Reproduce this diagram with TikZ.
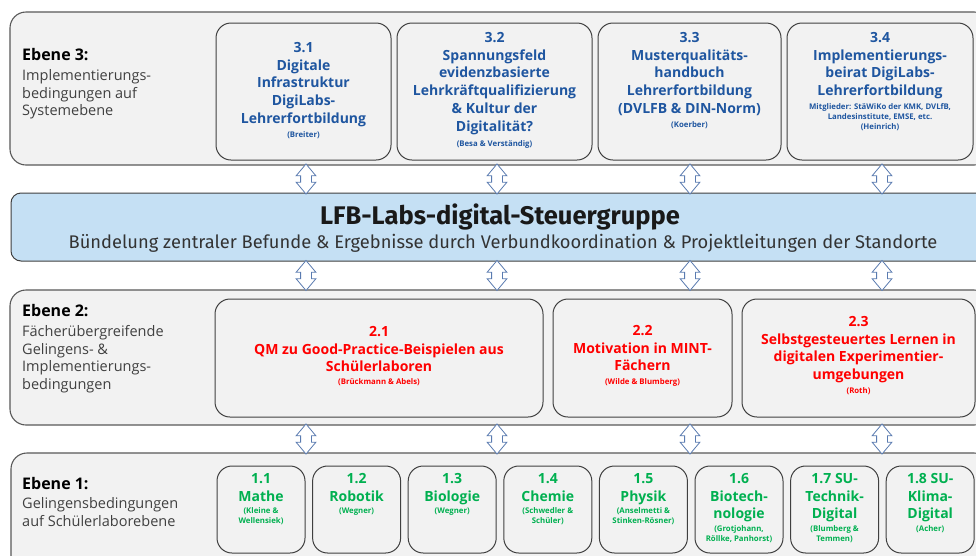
\documentclass[tikz,border=0pt]{standalone}
\usepackage{fontspec}
\setmainfont{Open Sans}
\newfontfamily\steuerfont{Fira Sans}
\usetikzlibrary{shapes,arrows,positioning,calc}

\definecolor{boxfill}{HTML}{F2F2F2}
\definecolor{boxline}{HTML}{595959}
\definecolor{feldline}{HTML}{404040}
\definecolor{steuerfill}{HTML}{C5E0F4}
\definecolor{pfeil}{HTML}{5A7BB0}
\definecolor{blau3}{HTML}{1F56A0}
\definecolor{rot2}{HTML}{FF0000}
\definecolor{gruen1}{HTML}{00B050}
\definecolor{ebenetext}{HTML}{404040}

\newcommand{\fs}[2]{\fontsize{#1}{#2}\selectfont}

\tikzstyle{ebene} = [rectangle, rounded corners=16pt, draw=boxline, fill=boxfill, line width=1.1pt, inner sep=0]
\tikzstyle{feld} = [rectangle, rounded corners=15pt, draw=feldline, fill=boxfill, line width=1pt, inner sep=0]
\tikzstyle{ebenekopf} = [anchor=base west, font=\bfseries\fs{16}{19}, text=black, inner sep=0]
\tikzstyle{ebenetxt} = [anchor=north west, align=left, font=\fs{14.5}{17.5}, text=ebenetext, inner sep=0]
\tikzstyle{feldtxt} = [anchor=north, align=center, font=\bfseries\fs{14}{17.8}, inner sep=0]
\tikzstyle{autor} = [anchor=north, align=center, font=\bfseries\fs{7.8}{10}, inner sep=0]
\tikzstyle{dpfeil} = [double arrow, draw=pfeil, fill=white, line width=0.8pt, rotate=90, minimum height=30pt, minimum width=19pt, inner xsep=0pt, inner ysep=5pt, double arrow head extend=4.5pt, double arrow tip angle=80]

\begin{document}
\begin{tikzpicture}[x=1pt, y=-1pt]
    \useasboundingbox (0,0) rectangle (976,555);
    \clip (0,0) rectangle (976,555);
    \fill[white] (0,0) rectangle (976,555);

    % Ebene 3: Systemebene
    \node[ebene, minimum width=980pt, minimum height=153pt] (ebene3) at (500,88.5) {};
    \node[ebenekopf] (k3) at (22,60) {Ebene 3:};
    \node[ebenetxt] (l3) at (22,69.6) {Implementierungs-\\bedingungen auf\\Systemebene};

    \node[feld, minimum width=175pt, minimum height=137pt] (b31) at (303.5,91.5) {};
    \node[feld, minimum width=195pt, minimum height=137pt] (b32) at (494.5,91.5) {};
    \node[feld, minimum width=183pt, minimum height=137pt] (b33) at (689.5,91.5) {};
    \node[feld, minimum width=186pt, minimum height=137pt] (b34) at (880,91.5) {};

    \node[feldtxt, text=blau3] (t31) at (303.5,42) {3.1\\Digitale\\Infrastruktur\\DigiLabs-\\Lehrerfortbildung};
    \node[autor, text=blau3] (a31) at (303.5,131.5) {(Breiter)};
    \node[feldtxt, text=blau3] (t32) at (494.5,32) {3.2\\Spannungsfeld\\evidenzbasierte\\Lehrkräftqualifizierung\\\& Kultur der\\Digitalität?};
    \node[autor, text=blau3] (a32) at (494.5,140.5) {(Besa \& Verständig)};
    \node[feldtxt, text=blau3] (t33) at (689.5,32) {3.3\\Musterqualitäts-\\handbuch\\Lehrerfortbildung\\(DVLFB \& DIN-Norm)};
    \node[autor, text=blau3] (a33) at (689.5,121.5) {(Koerber)};
    \node[feldtxt, text=blau3] (t34) at (880,32) {3.4\\Implementierungs-\\beirat DigiLabs-\\Lehrerfortbildung};
    \node[autor, text=blau3] (a34) at (880,103.5) {Mitglieder: StäWiKo der KMK, DVLfB,\\Landesinstitute, EMSE, etc.\\(Heinrich)};

    % Steuergruppe
    \node[rectangle, rounded corners=10pt, draw=feldline, fill=steuerfill, line width=1pt, minimum width=979pt, minimum height=68pt] (steuer) at (500.5,227) {};
    \node[anchor=base, inner sep=0, font=\steuerfont\bfseries\fs{25.5}{30}, text=black!90] (st1) at (500,224) {LFB-Labs-digital-Steuergruppe};
    \node[anchor=base, inner sep=0, font=\steuerfont\fs{18.3}{22}, text=black!80] (st2) at (503,248) {Bündelung zentraler Befunde \& Ergebnisse durch Verbundkoordination \& Projektleitungen der Standorte};

    % Ebene 2: faecheruebergreifend
    \node[ebene, minimum width=980pt, minimum height=135pt] (ebene2) at (500,357.5) {};
    \node[ebenekopf] (k2) at (22,316) {Ebene 2:};
    \node[ebenetxt] (l2) at (22,325.6) {Fächerübergreifende\\Gelingens- \&\\Implementierungs-\\bedingungen};

    \node[feld, minimum width=328pt, minimum height=118pt] (b21) at (379,358) {};
    \node[feld, minimum width=179pt, minimum height=118pt] (b22) at (642.5,358) {};
    \node[feld, minimum width=233pt, minimum height=118pt] (b23) at (858.5,358) {};

    \node[feldtxt, text=rot2] (t21) at (379,326) {2.1\\QM zu Good-Practice-Beispielen aus\\Schülerlaboren};
    \node[autor, text=rot2] (a21) at (379,378.5) {(Brückmann \& Abels)};
    \node[feldtxt, text=rot2] (t22) at (642.5,325) {2.2\\Motivation in MINT-\\Fächern};
    \node[autor, text=rot2] (a22) at (642.5,378.5) {(Wilde \& Blumberg)};
    \node[feldtxt, text=rot2] (t23) at (858.5,316) {2.3\\Selbstgesteuertes Lernen in\\digitalen Experimentier-\\umgebungen};
    \node[autor, text=rot2] (a23) at (858.5,387.5) {(Roth)};

    % Ebene 1: Schuelerlabore
    \node[ebene, minimum width=979pt, minimum height=122pt] (ebene1) at (500.5,514) {};
    \node[ebenekopf] (k1) at (22,489) {Ebene 1:};
    \node[ebenetxt] (l1) at (22,497.6) {Gelingensbedingungen\\auf Schülerlaborebene};

    \foreach \i/\haupt/\wer/\yw in {
        1/{1.1\\Mathe}/{(Kleine \&\\Wellensiek)}/507.5,
        2/{1.2\\Robotik}/{(Wegner)}/507.5,
        3/{1.3\\Biologie}/{(Wegner)}/507.5,
        4/{1.4\\Chemie}/{(Schwedler \&\\Schüler)}/507.5,
        5/{1.5\\Physik}/{(Anselmetti \&\\Stinken-Rösner)}/507.5,
        6/{1.6\\Biotech-\\nologie}/{(Grotjohann,\\Röllke, Panhorst)}/525.5,
        7/{1.7 SU-\\Technik-\\Digital}/{(Blumberg \&\\Temmen)}/525.5,
        8/{1.8 SU-\\Klima-\\Digital}/{(Acher)}/525.5}{
        \pgfmathsetmacro{\xm}{261+(\i-1)*95.6}
        \node[feld, minimum width=88pt, minimum height=87pt] (b1\i) at (\xm,509.5) {};
        \node[feldtxt, text=gruen1] (t1\i) at (\xm,473) {\haupt};
        \node[autor, text=gruen1] (a1\i) at (\xm,\yw) {\wer};
    }

    % Doppelpfeile zwischen den Ebenen
    \foreach \x [count=\k] in {306,497,690,882} {
        \node[dpfeil] (po\k) at (\x,179) {};
        \node[dpfeil] (pm\k) at (\x,275.5) {};
        \node[dpfeil] (pu\k) at (\x,439) {};
    }
\end{tikzpicture}
\end{document}
